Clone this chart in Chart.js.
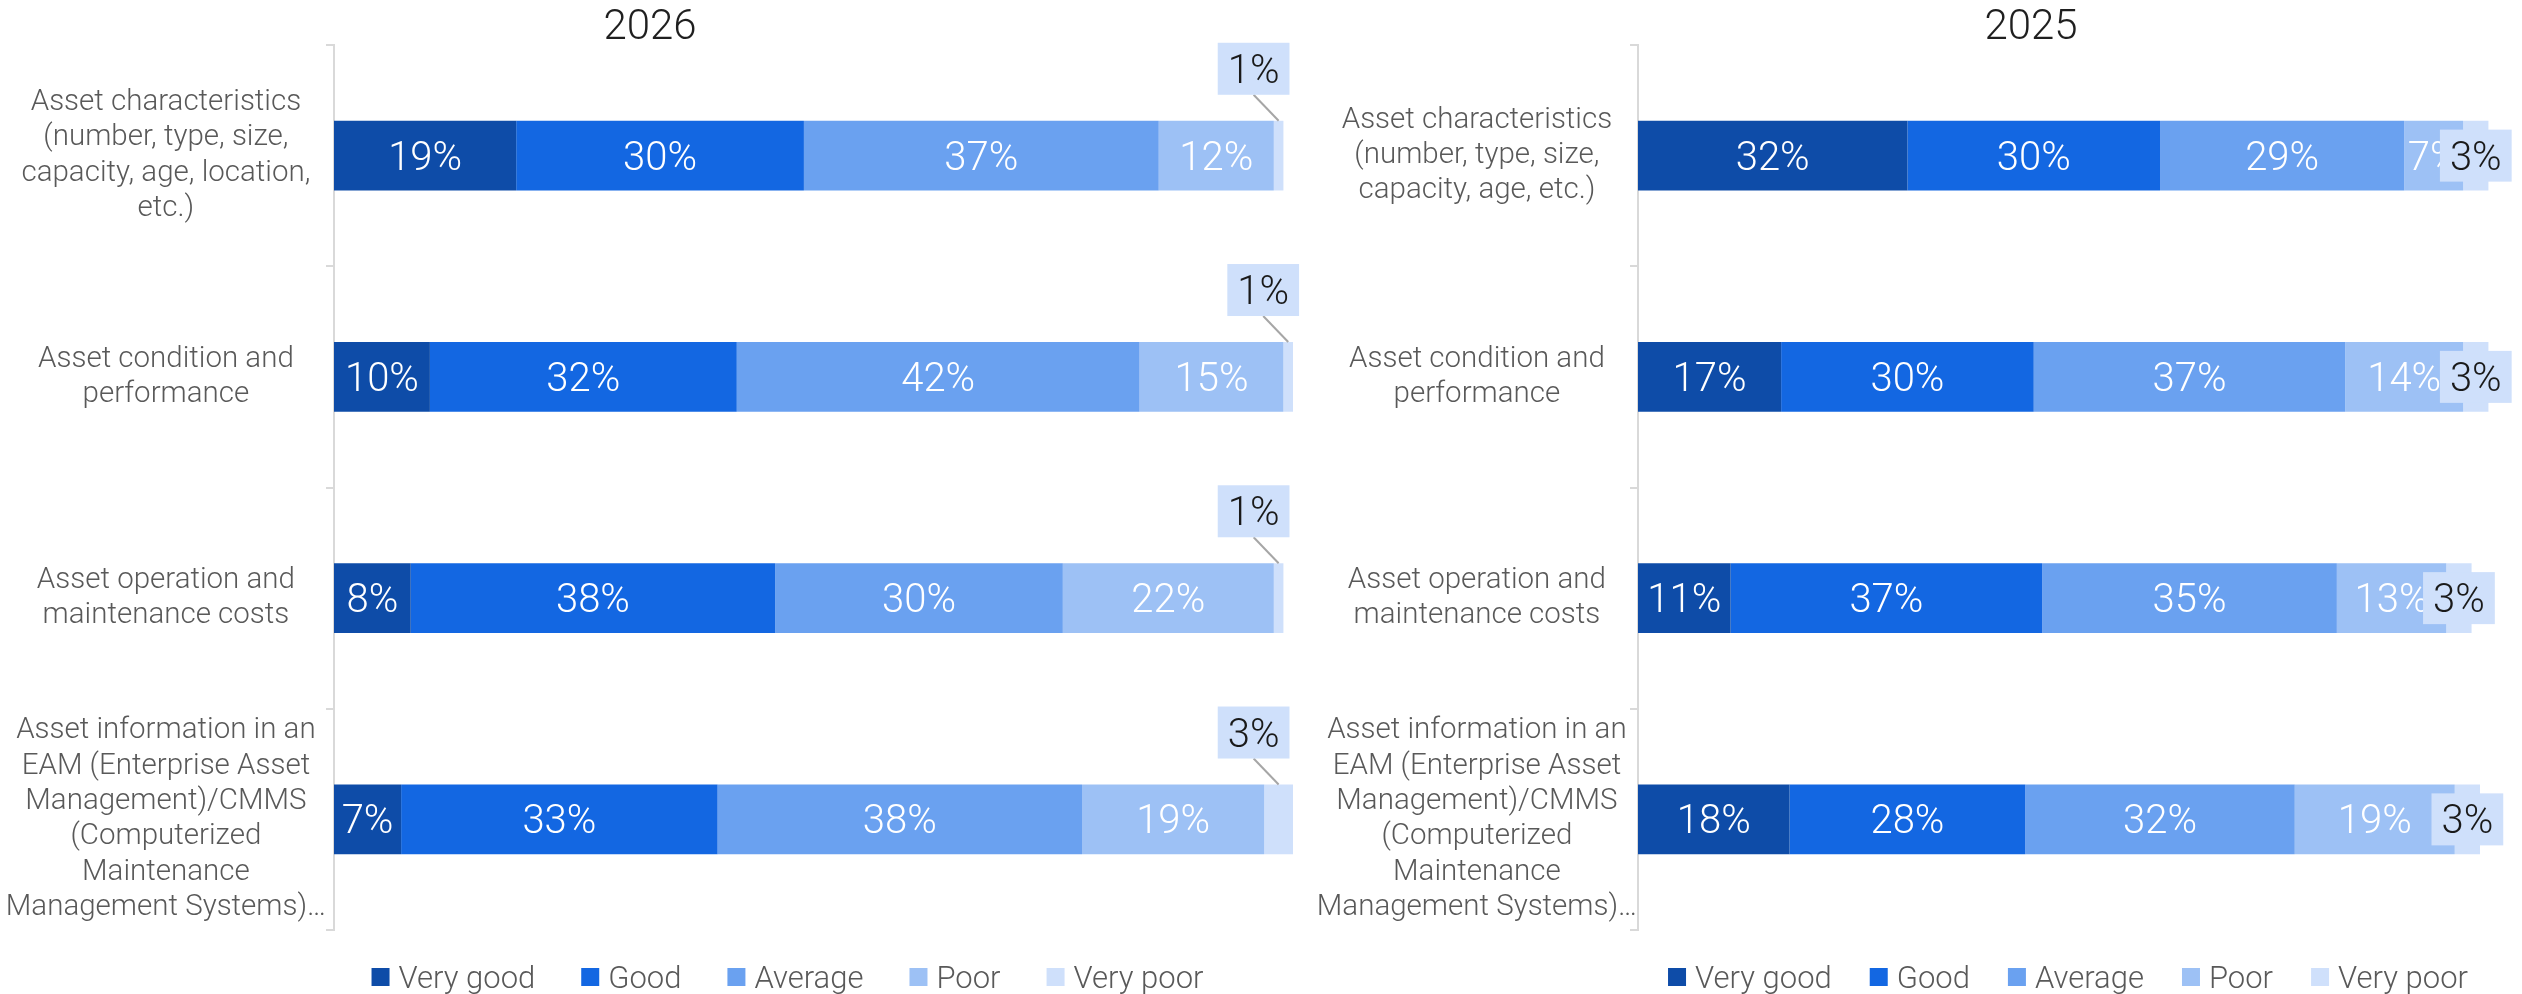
<!DOCTYPE html>
<html>
<head>
<meta charset="utf-8">
<title>Asset data quality ratings, 2026 vs 2025</title>
<script src="https://cdn.jsdelivr.net/npm/chart.js@4.4.1/dist/chart.umd.min.js"></script>
<style>
  html, body { margin: 0; padding: 0; background: #fff; }
  .wrap { position: relative; width: 2522px; height: 994px; overflow: hidden; }
  .panel { position: absolute; top: 0; height: 994px; }
  #panel2026 { left: 0; width: 1300px; }
  /* wider than the space left on the page so the title sits over the bars; the overflow is cut off */
  #panel2025 { left: 1300px; width: 1462px; }
</style>
</head>
<body>
<div class="wrap">
  <div class="panel" id="panel2026"><canvas id="chart2026"></canvas></div>
  <div class="panel" id="panel2025"><canvas id="chart2025"></canvas></div>
</div>
<script>
const ratingLabels = ['Very good', 'Good', 'Average', 'Poor', 'Very poor'];
const ratingColors = ['#0E4CA8', '#1367E2', '#6AA1F0', '#9DC1F5', '#CFE0FB'];

const categories2026 = [
  ['Asset characteristics', '(number, type, size,', 'capacity, age, location,', 'etc.)'],
  ['Asset condition and', 'performance'],
  ['Asset operation and', 'maintenance costs'],
  ['Asset information in an', 'EAM (Enterprise Asset', 'Management)/CMMS', '(Computerized', 'Maintenance', 'Management Systems)…']
];
const categories2025 = [
  ['Asset characteristics', '(number, type, size,', 'capacity, age, etc.)'],
  ['Asset condition and', 'performance'],
  ['Asset operation and', 'maintenance costs'],
  ['Asset information in an', 'EAM (Enterprise Asset', 'Management)/CMMS', '(Computerized', 'Maintenance', 'Management Systems)…']
];

// % of respondents per rating, rows follow the category order
const veryGood2026 = [19, 10, 8, 7];
const good2026 = [30, 32, 38, 33];
const average2026 = [37, 42, 30, 38];
const poor2026 = [12, 15, 22, 19];
const veryPoor2026 = [1, 1, 1, 3];

const veryGood2025 = [32, 17, 11, 18];
const good2025 = [30, 30, 37, 28];
const average2025 = [29, 37, 35, 32];
const poor2025 = [7, 14, 13, 19];
const veryPoor2025 = [3, 3, 3, 3];

const FONT = 'Roboto';
const LABEL_GREY = '#595959';

Chart.defaults.font.family = FONT;

// value labels inside the segments; the last (smallest) series gets a boxed label
const barLabels = {
  id: 'barLabels',
  afterDatasetsDraw(chart, args, opts) {
    const ctx = chart.ctx;
    const last = chart.data.datasets.length - 1;
    ctx.save();
    ctx.font = '300 40px ' + FONT;
    ctx.textAlign = 'center';
    ctx.textBaseline = 'alphabetic';
    chart.data.datasets.forEach((ds, di) => {
      const meta = chart.getDatasetMeta(di);
      meta.data.forEach((bar, i) => {
        const text = ds.data[i] + '%';
        const p = bar.getProps(['x', 'y', 'base', 'height'], true);
        const cx = (p.x + p.base) / 2;
        if (di < last) {
          ctx.fillStyle = '#FFFFFF';
          ctx.fillText(text, cx, p.y + 14);
          return;
        }
        const w = ctx.measureText(text).width + 20;
        const h = 52;
        if (opts.callout) {
          // box above the bar with a leader line down to the segment
          const bx = cx - 25;
          const bottom = p.y - p.height / 2 - 26;
          ctx.strokeStyle = '#A6A6A6';
          ctx.lineWidth = 2;
          ctx.beginPath();
          ctx.moveTo(bx, bottom);
          ctx.lineTo(cx, p.y - p.height / 2);
          ctx.stroke();
          ctx.fillStyle = ds.backgroundColor;
          ctx.fillRect(bx - w / 2, bottom - h, w, h);
          ctx.fillStyle = '#1A1A1A';
          ctx.fillText(text, bx, bottom - h / 2 + 14);
        } else {
          ctx.fillStyle = ds.backgroundColor;
          ctx.fillRect(cx - w / 2, p.y - h / 2, w, h);
          ctx.fillStyle = '#1A1A1A';
          ctx.fillText(text, cx, p.y + 14);
        }
      });
    });
    ctx.restore();
  }
};

// legend row under the plot, roughly centred on the chart area
const bottomLegend = {
  id: 'bottomLegend',
  afterDraw(chart, args, opts) {
    const ctx = chart.ctx;
    const area = chart.chartArea;
    const box = 18, gap = 9, spacing = opts.spacing;
    ctx.save();
    ctx.font = '300 31px ' + FONT;
    ctx.textAlign = 'left';
    ctx.textBaseline = 'alphabetic';
    const items = chart.data.datasets.map(ds => ({
      label: ds.label,
      color: ds.backgroundColor,
      w: box + gap + ctx.measureText(ds.label).width
    }));
    const total = items.reduce((s, it) => s + it.w, 0) + spacing * (items.length - 1);
    let x = (area.left + area.right) / 2 + opts.shift - total / 2;
    const cy = area.bottom + 47;
    items.forEach(it => {
      ctx.fillStyle = it.color;
      ctx.fillRect(x, cy - box / 2, box, box);
      ctx.fillStyle = LABEL_GREY;
      ctx.fillText(it.label, x + box + gap, cy + 11);
      x += it.w + spacing;
    });
    ctx.restore();
  }
};

// centre the title on the whole canvas instead of between the layout paddings
const canvasWideTitle = {
  id: 'canvasWideTitle',
  afterLayout(chart) {
    const t = chart.titleBlock;
    if (!t) return;
    t.left = 0;
    t.right = chart.width;
    t.width = chart.width;
  }
};

function buildDatasets(series) {
  return series.map((values, i) => ({
    label: ratingLabels[i],
    data: values,
    backgroundColor: ratingColors[i],
    borderWidth: 0,
    barPercentage: 0.315,
    categoryPercentage: 1,
    clip: false
  }));
}

function createPanel(canvasId, year, categories, series, opt) {
  const ctx = document.getElementById(canvasId).getContext('2d');
  return new Chart(ctx, {
    type: 'bar',
    data: {
      labels: categories,
      datasets: buildDatasets(series)
    },
    options: {
      indexAxis: 'y',
      responsive: true,
      maintainAspectRatio: false,
      animation: false,
      layout: {
        padding: { left: 0, right: opt.padRight, top: 0, bottom: 64 }
      },
      plugins: {
        legend: { display: false },
        tooltip: { enabled: false },
        title: {
          display: true,
          text: year,
          color: '#1F1F1F',
          font: { family: FONT, size: 42, weight: 300, lineHeight: 1 },
          padding: { top: 7, bottom: -4 }
        },
        barLabels: { callout: opt.callout },
        bottomLegend: opt.legend
      },
      scales: {
        x: {
          stacked: true,
          display: false,
          min: 0,
          max: 100
        },
        y: {
          stacked: true,
          grid: {
            display: true,
            drawOnChartArea: false,
            tickLength: 8,
            color: '#D9D9D9',
            lineWidth: 2
          },
          border: { display: true, color: '#D9D9D9', width: 2 },
          ticks: {
            color: LABEL_GREY,
            font: { family: FONT, size: 29.5, weight: 300, lineHeight: 1.2 },
            crossAlign: 'center',
            padding: opt.tickPadding,
            autoSkip: false
          },
          afterFit(scale) {
            // fixed label column; tall wrapped labels must not push the plot down
            scale.width = opt.axisWidth;
            scale.paddingTop = 0;
            scale.paddingBottom = 0;
          }
        }
      }
    },
    plugins: [barLabels, bottomLegend, canvasWideTitle]
  });
}

createPanel('chart2026', '2026', categories2026,
  [veryGood2026, good2026, average2026, poor2026, veryPoor2026],
  { axisWidth: 334, padRight: 7, tickPadding: 0, callout: true,
    legend: { spacing: 46, shift: -26 } });

createPanel('chart2025', '2025', categories2025,
  [veryGood2025, good2025, average2025, poor2025, veryPoor2025],
  { axisWidth: 338, padRight: 282, tickPadding: -7, callout: false,
    legend: { spacing: 38, shift: 9 } });
</script>
</body>
</html>
